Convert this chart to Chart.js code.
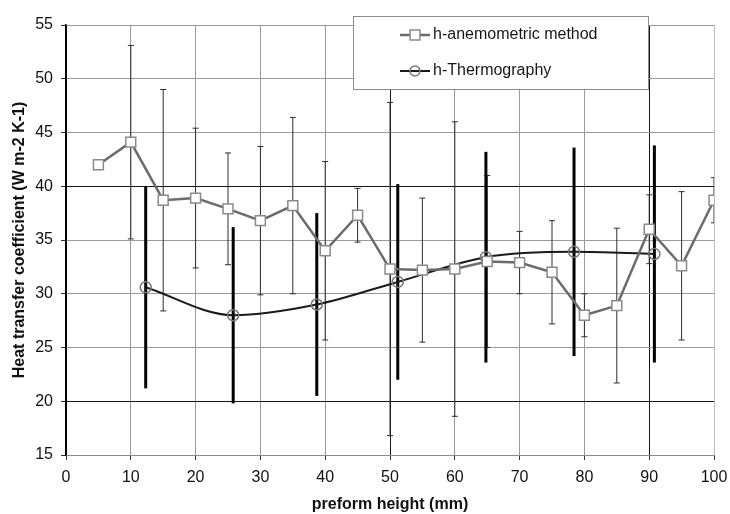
<!DOCTYPE html>
<html>
<head>
<meta charset="utf-8">
<title>Heat transfer coefficient</title>
<script src="https://cdn.jsdelivr.net/npm/chart.js@4.4.0/dist/chart.umd.min.js"></script>
<style>
	body { margin: 0; background: #ffffff; }
	#chart-box { width: 730px; height: 514px; }
</style>
</head>
<body>
<div id="chart-box"><canvas id="htc-chart-canvas" width="730" height="514"></canvas></div>
<script>
// anemometric measurements, one every 5 mm
var anemoHeights = [5, 10, 15, 20, 25, 30, 35, 40, 45, 50, 55, 60, 65, 70, 75, 80, 85, 90, 95, 100];
var anemoValues = [42.0, 44.1, 38.7, 38.9, 37.9, 36.8, 38.2, 34.0, 37.3, 32.3, 32.2, 32.3, 33.0, 32.9, 32.0, 28.0, 28.9, 36.0, 32.6, 38.7];
var anemoErrors = [null, 9.0, 10.3, 6.5, 5.2, 6.9, 8.2, 8.3, 2.5, 15.5, 6.7, 13.7, 8.0, 2.9, 4.8, 2.0, 7.2, 3.2, 6.9, 2.1];

// thermography measurements
var thermoHeights = [12.3, 25.8, 38.7, 51.2, 64.8, 78.4, 90.8];
var thermoValues = [30.6, 28.0, 29.0, 31.1, 33.4, 33.9, 33.7];
var thermoErrors = [9.4, 8.2, 8.5, 9.1, 9.8, 9.7, 10.1];

var xTickValues = [0, 10, 20, 30, 40, 50, 60, 70, 80, 90, 100];
var yTickValues = [15, 20, 25, 30, 35, 40, 45, 50, 55];

var seriesLabels = ["h-anemometric method", "h-Thermography"];

var fontFamily = "'Liberation Sans', Arial, Helvetica, sans-serif";

function toPoints(xs, ys) {
	var points = [];
	for(let i = 0; i < xs.length; i++)
		points.push({x: xs[i], y: ys[i]});
	return points;
}

function drawBars(ctx, xScale, yScale, xs, ys, errs, capHalf) {
	for(let i = 0; i < xs.length; i++) {
		if(errs[i] == null)
			continue;
		var px = xScale.getPixelForValue(xs[i]);
		var top = yScale.getPixelForValue(ys[i] + errs[i]);
		var bottom = yScale.getPixelForValue(ys[i] - errs[i]);
		ctx.beginPath();
		ctx.moveTo(px, top);
		ctx.lineTo(px, bottom);
		if(capHalf > 0) {
			ctx.moveTo(px - capHalf, top);
			ctx.lineTo(px + capHalf, top);
			ctx.moveTo(px - capHalf, bottom);
			ctx.lineTo(px + capHalf, bottom);
		}
		ctx.stroke();
	}
}

var errorBarPlugin = {
	id: 'errorBars',
	beforeDatasetsDraw: function(chart) {
		var ctx = chart.ctx;
		var area = chart.chartArea;
		ctx.save();
		ctx.beginPath();
		ctx.rect(area.left, area.top, area.right - area.left, area.bottom - area.top);
		ctx.clip();
		ctx.strokeStyle = '#2e2e2e';
		ctx.lineWidth = 1;
		drawBars(ctx, chart.scales.x, chart.scales.y, anemoHeights, anemoValues, anemoErrors, 3);
		ctx.strokeStyle = '#000000';
		ctx.lineWidth = 3;
		drawBars(ctx, chart.scales.x, chart.scales.y, thermoHeights, thermoValues, thermoErrors, 0);
		ctx.restore();
	}
};

// boxed legend sitting inside the top of the plot
var boxLegendPlugin = {
	id: 'boxLegend',
	afterDraw: function(chart) {
		var ctx = chart.ctx;
		var box = {left: 353, top: 16, right: 648, bottom: 89};
		var rows = [35, 71];
		var styles = [
			{line: '#6b6b6b', marker: '#8a8a8a', shape: 'rect', width: 2.5},
			{line: '#1a1a1a', marker: '#777777', shape: 'circle', width: 2}
		];
		ctx.save();
		ctx.fillStyle = '#ffffff';
		ctx.fillRect(box.left, box.top, box.right - box.left, box.bottom - box.top);
		ctx.strokeStyle = '#8c8c8c';
		ctx.lineWidth = 1;
		ctx.strokeRect(box.left + 0.5, box.top + 0.5, box.right - box.left, box.bottom - box.top);
		for(let i = 0; i < rows.length; i++) {
			ctx.strokeStyle = styles[i].line;
			ctx.lineWidth = styles[i].width;
			ctx.beginPath();
			ctx.moveTo(400, rows[i]);
			ctx.lineTo(430, rows[i]);
			ctx.stroke();
			ctx.strokeStyle = styles[i].marker;
			ctx.fillStyle = styles[i].shape == 'rect' ? '#ffffff' : 'rgba(0,0,0,0)';
			ctx.lineWidth = 1.5;
			Chart.helpers.drawPoint(ctx, {pointStyle: styles[i].shape, radius: styles[i].shape == 'rect' ? 7 : 5, borderWidth: 1.5}, 415, rows[i]);
			ctx.fillStyle = '#161616';
			ctx.font = "16px " + fontFamily;
			ctx.textBaseline = 'middle';
			ctx.fillText(seriesLabels[i], 433, rows[i]);
		}
		ctx.restore();
	}
};

function gridColorX(c) {
	if(c.tick == null) return '#9a9a9a';
	if(c.tick.value == 50 || c.tick.value == 90) return '#151515';
	if(c.tick.value == 0) return '#000000';
	if(c.tick.value == 100) return '#bdbdbd';
	return '#9a9a9a';
}

function gridColorY(c) {
	if(c.tick == null) return '#9a9a9a';
	if(c.tick.value == 20 || c.tick.value == 40) return '#151515';
	return '#9a9a9a';
}

window.onload = function() {
	Chart.defaults.color = '#111111';
	Chart.defaults.font.family = fontFamily;

	window.htcChart = new Chart(document.getElementById('htc-chart-canvas'), {
		type: 'line',
		data: {
			datasets: [{
				label: seriesLabels[0],
				data: toPoints(anemoHeights, anemoValues),
				borderColor: '#6b6b6b',
				borderWidth: 2.5,
				pointStyle: 'rect',
				pointRadius: 7,
				pointBorderColor: '#8a8a8a',
				pointBackgroundColor: '#ffffff',
				pointBorderWidth: 1.5,
				tension: 0
			}, {
				label: seriesLabels[1],
				data: toPoints(thermoHeights, thermoValues),
				borderColor: '#1a1a1a',
				borderWidth: 2,
				pointStyle: 'circle',
				pointRadius: 5.5,
				pointBorderColor: '#777777',
				pointBackgroundColor: 'rgba(0,0,0,0)',
				pointBorderWidth: 1.5,
				cubicInterpolationMode: 'monotone'
			}]
		},
		options: {
			responsive: false,
			animation: false,
			layout: {
				padding: {left: 0, top: 25, right: 16, bottom: 0}
			},
			plugins: {
				legend: {display: false},
				tooltip: {enabled: false}
			},
			scales: {
				x: {
					type: 'linear',
					min: 0,
					max: 100,
					afterBuildTicks: function(scale) { scale.ticks = xTickValues.map(function(v) { return {value: v}; }); },
					afterFit: function(scale) {
						scale.height = 59;
						scale.paddingLeft = 0;
						scale.paddingRight = 0;
					},
					grid: {color: gridColorX, tickColor: '#333333', tickLength: 5, lineWidth: 1},
					border: {color: '#8a8a8a', width: 1},
					ticks: {font: {size: 16}, padding: 8, maxRotation: 0},
					title: {
						display: true,
						text: 'preform height (mm)',
						font: {size: 16, weight: 'bold'},
						padding: {top: 0, bottom: 0}
					}
				},
				y: {
					min: 15,
					max: 55,
					afterBuildTicks: function(scale) { scale.ticks = yTickValues.map(function(v) { return {value: v}; }); },
					afterFit: function(scale) {
						scale.width = 66;
						scale.paddingTop = 0;
						scale.paddingBottom = 0;
					},
					grid: {color: gridColorY, tickColor: '#333333', tickLength: 5, lineWidth: 1},
					border: {color: '#000000', width: 1.5},
					ticks: {font: {size: 16}, padding: 8},
					title: {
						display: true,
						text: 'Heat transfer coefficient (W m-2 K-1)',
						font: {size: 16, weight: 'bold'},
						padding: {top: 10, bottom: 0}
					}
				}
			}
		},
		plugins: [errorBarPlugin, boxLegendPlugin]
	});
}
</script>
</body>
</html>
